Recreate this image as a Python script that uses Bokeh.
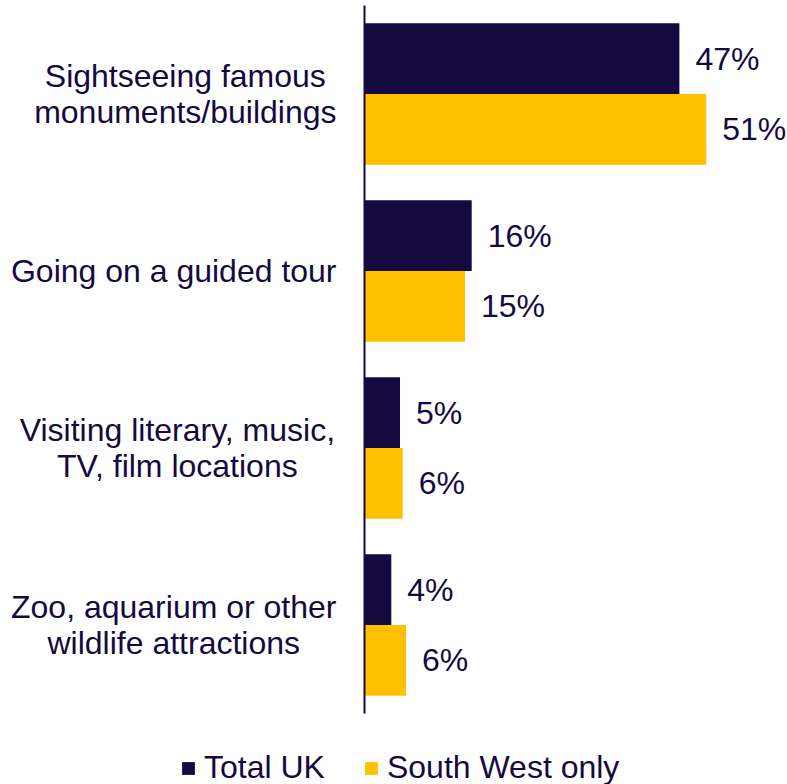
from bokeh.plotting import figure
from bokeh.models import Range1d, Legend, LegendItem
from bokeh.core.properties import value
from bokeh.embed import file_html
from bokeh.resources import INLINE

# ---- data ----
categories = [
    "Sightseeing famous\nmonuments/buildings",
    "Going on a guided tour",
    "Visiting literary, music,\nTV, film locations",
    "Zoo, aquarium or other\nwildlife attractions",
]
total_uk = [47, 16, 5.3, 4.0]
south_west = [51, 15, 5.7, 6.2]
series_names = ["Total UK", "South West only"]

# ---- style ----
NAVY = "#140A40"
GOLD = "#FFC000"
FONT = "Liberation Sans"
FS = 32
W, H = 787, 784
TOP_PX, BOTTOM_PX = 5, 71     # space above / below the category area
PX_PER_CAT = 177
ZERO_PX = 364          # screen x of the value axis
PX_PER_UNIT = 6.70     # pixels per percentage point
LABEL_RIGHT_PX = 336   # right edge of category label blocks

# Arial / Liberation Sans advance widths (per em)
CW = {' ': .278, ',': .278, '/': .278, '%': .889,
      'a': .556, 'b': .556, 'c': .5, 'd': .556, 'e': .556, 'f': .278, 'g': .556,
      'h': .556, 'i': .222, 'j': .222, 'k': .5, 'l': .222, 'm': .833, 'n': .556,
      'o': .556, 'p': .556, 'q': .556, 'r': .333, 's': .5, 't': .278, 'u': .556,
      'v': .5, 'w': .722, 'x': .5, 'y': .5, 'z': .5,
      'G': .778, 'S': .667, 'T': .611, 'V': .667, 'Z': .611}


def text_width(s):
    return sum(CW.get(ch, .556) for ch in s) * FS


n = len(categories)
p = figure(width=W, height=H, output_backend="svg", toolbar_location=None,
           x_range=Range1d(-ZERO_PX / PX_PER_UNIT, (W - ZERO_PX) / PX_PER_UNIT),
           y_range=Range1d(n - 0.5 + BOTTOM_PX / PX_PER_CAT, -0.5 - TOP_PX / PX_PER_CAT),
           x_axis_location=None, y_axis_location=None,
           min_border=0)
p.outline_line_color = None
p.grid.visible = False

idx = list(range(n))
y_total = [i - 0.2 for i in idx]
y_sw = [i + 0.2 for i in idx]

r1 = p.hbar(y=y_total, left=0, right=total_uk, height=0.4, fill_color=NAVY, line_color=None)
r2 = p.hbar(y=y_sw, left=0, right=south_west, height=0.4, fill_color=GOLD, line_color=None)

for vals, ys in ((total_uk, y_total), (south_west, y_sw)):
    p.text(x=vals, y=ys, text=[f"{v:.0f}%" for v in vals], x_offset=16,
           text_align="left", text_baseline="middle",
           text_font=value(FONT), text_font_size=f"{FS}px", text_color=NAVY)

# category labels: block right-aligned, lines centred within the block
cx = []
for c in categories:
    wmax = max(text_width(line) for line in c.split("\n"))
    cx.append((LABEL_RIGHT_PX - wmax / 2 - ZERO_PX) / PX_PER_UNIT)
p.text(x=cx, y=idx, text=categories, text_align="center", text_baseline="middle",
       text_line_height=1.0, text_font=value(FONT), text_font_size=f"{FS}px",
       text_color=NAVY)

# value axis line spanning the category band
p.segment(x0=[0], y0=[-0.5], x1=[0], y1=[n - 0.5], line_color=NAVY, line_width=2)

legend = Legend(items=[LegendItem(label=series_names[0], renderers=[r1]),
                       LegendItem(label=series_names[1], renderers=[r2])],
                orientation="horizontal", location=(180, -2),
                glyph_width=16, glyph_height=16, label_standoff=8, spacing=38,
                padding=0, margin=0, border_line_color=None, background_fill_alpha=0,
                label_text_font=FONT, label_text_font_size=f"{FS}px",
                label_text_color=NAVY)
p.add_layout(legend)

open("out.html", "w").write(file_html(p, INLINE))
